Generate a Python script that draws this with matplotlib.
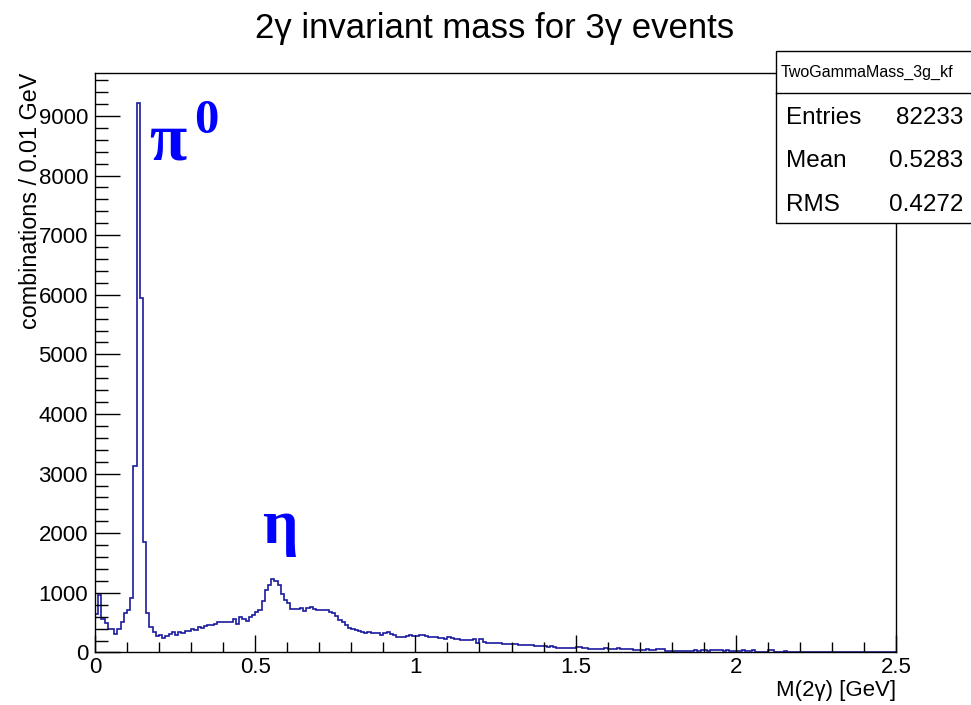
import numpy as np
import matplotlib
matplotlib.use("Agg")
import matplotlib.pyplot as plt
from matplotlib.patches import Rectangle
from matplotlib.ticker import MultipleLocator

plt.rcParams['font.family'] = ['Liberation Sans', 'DejaVu Sans']

# 2-gamma invariant mass, 250 bins of 0.01 GeV from 0 to 2.5 GeV
edges = np.linspace(0.0, 2.5, 251)
counts = [
    642, 958, 563, 490, 400, 400, 304, 400, 518, 659,
    715, 913, 3120, 9224, 5947, 1857, 659, 422, 349, 276,
    287, 248, 282, 304, 338, 299, 344, 321, 355, 360,
    389, 372, 423, 406, 439, 456, 456, 479, 518, 518,
    518, 518, 518, 563, 479, 603, 558, 535, 590, 635,
    675, 720, 860, 1040, 1124, 1225, 1197, 1124, 984, 888,
    832, 731, 731, 731, 742, 703, 753, 759, 731, 720,
    708, 708, 720, 675, 663, 607, 540, 511, 455, 410,
    393, 382, 360, 343, 326, 337, 326, 320, 320, 298,
    320, 337, 315, 298, 259, 262, 267, 278, 289, 278,
    284, 289, 289, 273, 256, 256, 267, 250, 245, 222,
    267, 245, 222, 222, 211, 211, 211, 211, 233, 166,
    233, 171, 166, 166, 166, 166, 166, 149, 149, 149,
    149, 149, 132, 132, 121, 132, 121, 115, 104, 115,
    110, 93, 104, 87, 82, 70, 70, 82, 70, 70,
    95, 95, 70, 70, 65, 65, 59, 59, 59, 70,
    59, 59, 59, 76, 59, 59, 59, 59, 42, 42,
    42, 42, 53, 42, 42, 59, 59, 59, 25, 25,
    25, 25, 25, 25, 25, 25, 30, 37, 25, 37,
    37, 25, 37, 37, 37, 37, 25, 37, 25, 25,
    25, 25, 37, 25, 25, 37, 14, 14, 14, 14,
    37, 37, 14, 14, 14, 31, 12, 12, 12, 8,
    8, 10, 8, 8, 6, 8, 10, 8, 6, 8,
    6, 8, 8, 6, 8, 6, 6, 8, 6, 6,
    6, 6, 8, 6, 6, 6, 6, 6, 6, 6,
]

stats_name = "TwoGammaMass_3g_kf"
stats_rows = [("Entries", "82233"), ("Mean", "0.5283"), ("RMS", "0.4272")]

fig = plt.figure(figsize=(9.71, 7.05), dpi=100)
ax = fig.add_axes([0.0978, 0.0745, 0.825, 0.822])

ax.stairs(counts, edges, color="#1a1aa0", lw=1.2, baseline=0)
ax.set_xlim(0, 2.5)
ax.set_ylim(0, 9720)

ax.xaxis.set_major_locator(MultipleLocator(0.5))
ax.xaxis.set_minor_locator(MultipleLocator(0.1))
ax.yaxis.set_major_locator(MultipleLocator(1000))
ax.yaxis.set_minor_locator(MultipleLocator(200))
ax.set_xticks([0, 0.5, 1, 1.5, 2, 2.5])
ax.set_xticklabels(["0", "0.5", "1", "1.5", "2", "2.5"])

ax.tick_params(axis="x", which="major", direction="in", length=12, width=1, labelsize=16, pad=3)
ax.tick_params(axis="x", which="minor", direction="in", length=7, width=1)
ax.tick_params(axis="y", which="major", direction="in", length=18, width=1, labelsize=16, pad=5)
ax.tick_params(axis="y", which="minor", direction="in", length=9.5, width=1)
for s in ax.spines.values():
    s.set_linewidth(1)

ax.set_xlabel("M(2γ) [GeV]", fontsize=16, loc="right", labelpad=2)
ax.set_ylabel("combinations / 0.01 GeV", fontsize=16.8, loc="top")
ax.yaxis.set_label_coords(-0.066, 1.0)

fig.text(0.5098, 0.9600, "2γ invariant mass for 3γ events", fontsize=25,
         ha="center", va="center")

# particle labels
ax.text(0.168, 8273, "π", fontsize=49, color="blue", fontweight="bold",
        family="Liberation Serif", va="baseline", ha="left")
ax.text(0.31, 8720, "0", fontsize=35, color="blue", fontweight="bold",
        family="Liberation Serif", va="baseline", ha="left")
ax.text(0.52, 1840, "η", fontsize=45, color="blue", fontweight="bold",
        family="Liberation Serif", va="baseline", ha="left")

# stats box
fig.add_artist(Rectangle((0.7992, 0.6841), 0.21, 0.9281 - 0.6841,
                         transform=fig.transFigure, facecolor="white",
                         edgecolor="black", lw=1, zorder=5))
fig.add_artist(plt.Line2D([0.7992, 1.0], [0.8681, 0.8681],
                          transform=fig.transFigure, color="black", lw=1, zorder=6))
fig.text(0.8043, 0.8979, stats_name, fontsize=11.5, va="center", ha="left", zorder=7)
row_y = [0.8330, 0.7710, 0.7090]
for (k, v), yy in zip(stats_rows, row_y):
    fig.text(0.8095, yy, k, fontsize=17.5, va="center", ha="left", zorder=7)
    fig.text(0.9918, yy, v, fontsize=17.5, va="center", ha="right", zorder=7)

fig.savefig("out.png", dpi=100)
